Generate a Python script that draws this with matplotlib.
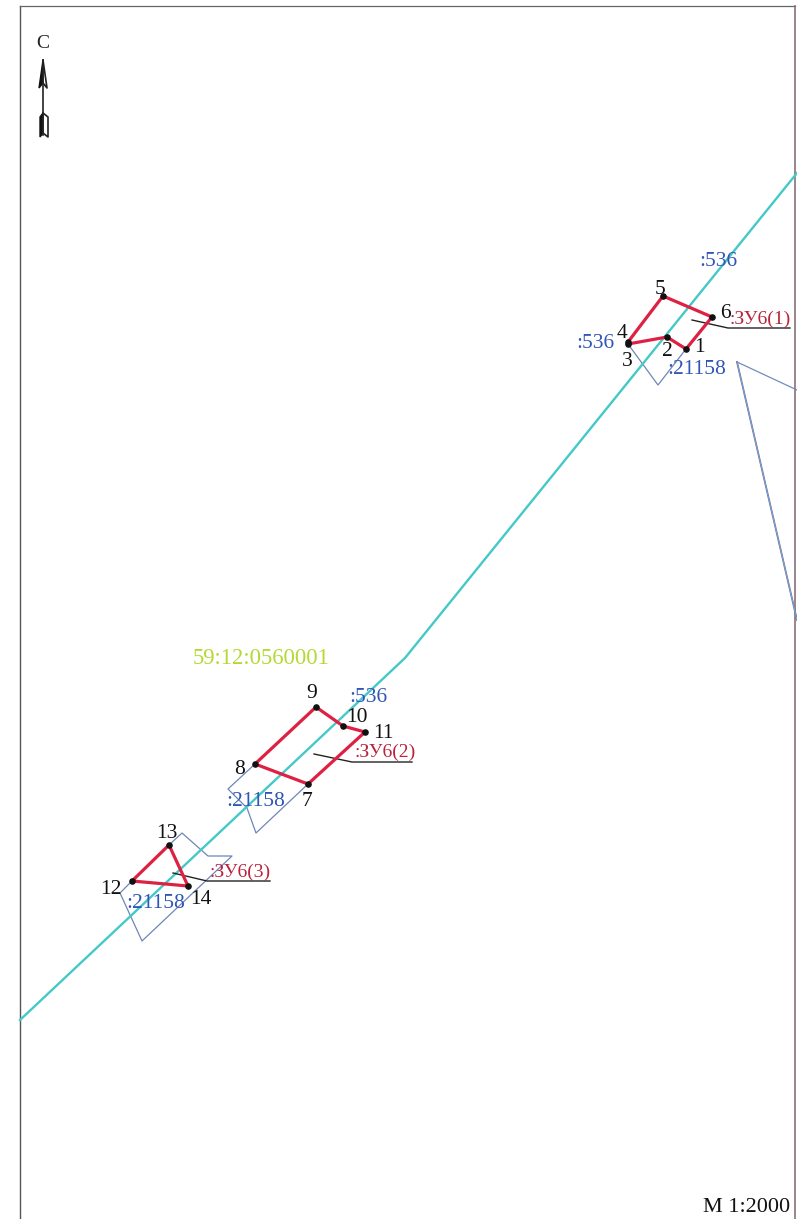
import matplotlib
matplotlib.use("Agg")
import matplotlib.pyplot as plt

plt.rcParams['font.family'] = ['Liberation Serif', 'DejaVu Serif']

# -------------------------------------------------------------------
# DATA (map read in picture coordinates)
# -------------------------------------------------------------------

boundary_x = [20, 405, 797]
boundary_y = [1020, 658, 173]

point_ids = [1, 2, 3, 4, 5, 6, 7, 8, 9, 10, 11, 12, 13, 14]
point_x = [686, 667, 628, 628, 663, 712, 308, 255, 316, 343, 365, 132, 169, 188]
point_y = [349, 337, 344, 342, 296, 317, 784, 764, 707, 726, 732, 881, 845, 886]

# outlines as lists of point ids
zy6_1 = [1, 2, 3, 4, 5, 6, 1]
zy6_2 = [7, 8, 9, 10, 11, 7]
zy6_3 = [12, 13, 14, 12]

parcel_a_x = [628, 658, 686]
parcel_a_y = [344, 385, 349]
parcel_b_x = [797, 737, 797]
parcel_b_y = [390, 362, 620]
parcel_c_x = [255, 228, 247, 256, 308]
parcel_c_y = [764, 789, 808, 833, 784]
parcel_d_x = [132, 120, 142, 232, 208, 182, 169]
parcel_d_y = [881, 893, 941, 856, 856, 833, 845]

leaders = [
    ([692, 728, 790], [320, 328, 328]),
    ([314, 352, 412], [754, 762, 762]),
    ([173, 207, 270], [873, 881, 881]),
]

zy_labels = [":ЗУ6(1)", ":ЗУ6(2)", ":ЗУ6(3)"]
zy_label_x = [730, 355, 210]
zy_label_y = [319, 752, 872]

parcel_labels = [":536", ":536", ":536", ":21158", ":21158", ":21158"]
parcel_label_x = [699, 576, 349, 667, 226, 126]
parcel_label_y = [261, 343, 698, 370, 802, 904]

number_x = [699, 667, 627, 622, 660, 725, 307, 240, 312, 357, 383, 111, 167, 201]
number_y = [348, 351, 361, 333, 289, 313, 801, 769, 693, 717, 733, 889, 833, 900]

# -------------------------------------------------------------------
# PLOT
# -------------------------------------------------------------------

fig = plt.figure(figsize=(7.97, 12.19), dpi=100)
ax = fig.add_axes([0, 0, 1, 1])
ax.set_xlim(0, 797)
ax.set_ylim(1219, 0)
ax.axis("off")

# frame
ax.plot([20, 20], [1219, 6], color="#555555", lw=1.0)
ax.plot([20, 795], [6, 6], color="#666666", lw=0.9)
ax.plot([795.5, 795.5], [6, 1219], color="#8a6f7c", lw=1.2)

# parcel outlines
for px, py in [(parcel_a_x, parcel_a_y), (parcel_c_x, parcel_c_y), (parcel_d_x, parcel_d_y)]:
    ax.plot(px, py, color="#6f86b8", lw=0.9)
ax.plot(parcel_b_x[:2], parcel_b_y[:2], color="#6f8fb8", lw=0.9)
ax.plot(parcel_b_x[1:], parcel_b_y[1:], color="#b0509a", lw=1.3)
ax.plot(parcel_b_x[1:], parcel_b_y[1:], color="#45c0d0", lw=0.7)

ax.plot(boundary_x, boundary_y, color="#45c8c8", lw=1.7)

# leaders
for lx, ly in leaders:
    ax.plot(lx, ly, color="#222222", lw=1.0)

# red outlines
for ring in [zy6_1, zy6_2, zy6_3]:
    rx = [point_x[i - 1] for i in ring]
    ry = [point_y[i - 1] for i in ring]
    ax.plot(rx, ry, color="#de2042", lw=2.3, solid_joinstyle="round")

ax.scatter(point_x, point_y, s=14, color="#111111", zorder=5)

for n, x, y in zip(point_ids, number_x, number_y):
    ax.text(x, y, str(n), fontsize=15.5, color="#111111", ha="center", va="center", zorder=6)

for s, x, y in zip(parcel_labels, parcel_label_x, parcel_label_y):
    ax.text(x, y, s, fontsize=15.5, color="#2f55b5", ha="left", va="center", zorder=6)

for s, x, y in zip(zy_labels, zy_label_x, zy_label_y):
    ax.text(x, y, s, fontsize=14, color="#b8243c", ha="left", va="center", zorder=6)

ax.text(193, 659, "59:12:0560001", fontsize=16.3, color="#b5d832", ha="left", va="center")
ax.text(790, 1207, "М 1:2000", fontsize=16, color="#111111", ha="right", va="center")
ax.text(43, 43, "С", fontsize=14, color="#222222", ha="center", va="center")

# north arrow
ax.plot([43, 43], [60, 135], color="#222222", lw=1.2)
ax.fill([43, 39, 43], [60, 88, 83], color="#111111", lw=1.0)
ax.plot([43, 47, 43], [60, 88, 83], color="#222222", lw=1.2)
ax.fill([40, 43, 43, 40], [117, 113, 133, 137], color="#111111", lw=1.0)
ax.plot([43, 48, 48, 43], [113, 117, 137, 133], color="#222222", lw=1.2)

fig.savefig("out.png", dpi=100)
